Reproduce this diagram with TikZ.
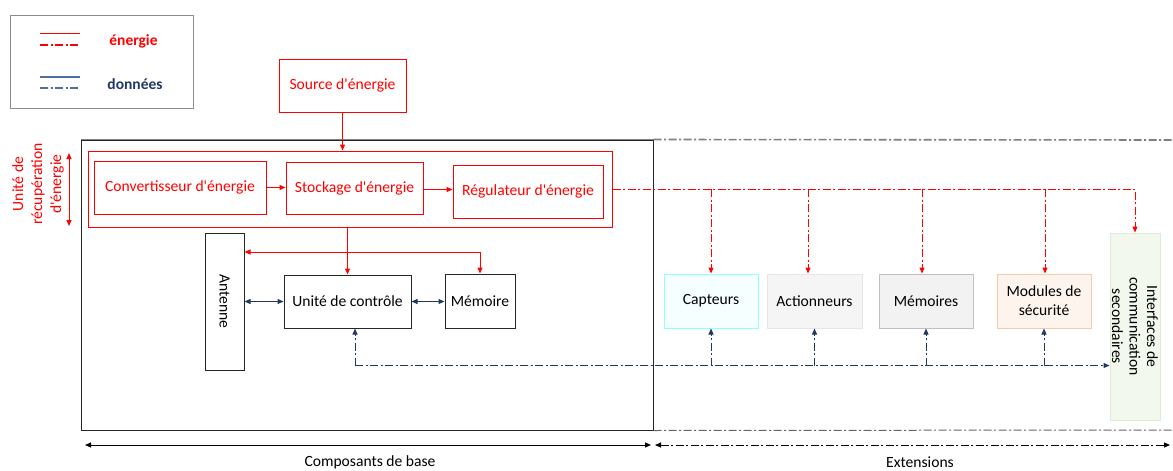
\documentclass[tikz,border=0pt]{standalone}
\usepackage{fontspec}
\setmainfont{Carlito}
\usetikzlibrary{arrows.meta,calc}
\definecolor{navy}{HTML}{1F3864}
\definecolor{legblue}{HTML}{4F6F9F}
\definecolor{framegray}{HTML}{7F7F7F}
\definecolor{capdraw}{HTML}{8FFFFF}
\definecolor{capfill}{HTML}{F5FFFF}
\definecolor{actdraw}{HTML}{E6E6E6}
\definecolor{actfill}{HTML}{F5F5F5}
\definecolor{memdraw}{HTML}{BFBFBF}
\definecolor{memfill}{HTML}{F2F2F2}
\definecolor{secdraw}{HTML}{F8CBAD}
\definecolor{secfill}{HTML}{FDF4EE}
\definecolor{itfdraw}{HTML}{DDEBD3}
\definecolor{itffill}{HTML}{F3F8EE}
\newcommand{\apos}{\textquotesingle}
\tikzset{
  x=1pt, y=-1pt,
  every node/.style={font=\fontsize{15.6}{19}\selectfont, inner sep=0pt, align=center},
  redbox/.style={draw=red, text=red, line width=1pt},
  blackbox/.style={draw=black!85, line width=1pt},
  tip/.style={-{Triangle[length=6pt,width=5pt]}},
  tips/.style={{Triangle[length=6pt,width=5pt]}-{Triangle[length=6pt,width=5pt]}},
  dashdot/.style={dash pattern=on 8pt off 2.5pt on 2pt off 2.5pt},
  enline/.style={draw=red, line width=1pt},
  dataline/.style={draw=navy, line width=1pt},
  legline/.style={line width=1.3pt},
}
\begin{document}
\begin{tikzpicture}
\useasboundingbox (0,0) rectangle (1173,471);

% legend
\node[draw=black!45, line width=1pt, minimum width=183pt, minimum height=93pt] (legend) at (101.5,61.5) {};
\coordinate (l1a) at (40,33.5);  \coordinate (l1b) at (80,33.5);
\coordinate (l2a) at (40,45);    \coordinate (l2b) at (80,45);
\coordinate (l3a) at (40,77);    \coordinate (l3b) at (80,77);
\coordinate (l4a) at (40,88);    \coordinate (l4b) at (80,88);
\draw[legline, draw=red] (l1a) -- (l1b);
\draw[legline, draw=red, dashdot] (l2a) -- (l2b);
\draw[legline, draw=legblue] (l3a) -- (l3b);
\draw[legline, draw=legblue, dashdot] (l4a) -- (l4b);
\node[text=red, font=\fontsize{15.5}{18}\selectfont\bfseries] (legen) at (133.5,41) {énergie};
\node[text=navy, font=\fontsize{15.5}{18}\selectfont\bfseries] (legdat) at (135,84) {données};

% base components frame and extensions frame
\node[blackbox, minimum width=572pt, minimum height=290pt] (base) at (367,285) {};
\draw[framegray, line width=1.6pt] (base.north west) -- (base.north east);
\coordinate (exttop) at (1173,140);
\coordinate (extbot) at (1173,430);
\draw[framegray, line width=1.6pt, dashdot] (base.north east) -- (exttop);
\draw[black!60, line width=1pt, dashdot] (base.south east) -- (extbot);

% energy source
\node[redbox, minimum width=127pt, minimum height=53pt] (src) at (342.5,85.5) {Source d\apos énergie};

% energy harvesting unit
\node[redbox, minimum width=524pt, minimum height=76pt] (recup) at (350,189) {};
\node[redbox, minimum width=172pt, minimum height=53pt] (conv) at (180,187.5) {Convertisseur d\apos énergie};
\node[redbox, minimum width=137pt, minimum height=52pt] (stock) at (354.5,188) {Stockage d\apos énergie};
\node[redbox, minimum width=150pt, minimum height=53pt] (reg) at (528,191.5) {Régulateur d\apos énergie};

\node[text=red, rotate=90, font=\fontsize{15.6}{19}\selectfont] (recuplbl) at (38,184) {Unité de\\récupération\\d\apos énergie};
\coordinate (ra) at (69,153);
\coordinate (rb) at (69,226);
\draw[enline, tips] (ra) -- (rb);

% core blocks
\node[blackbox, minimum width=39pt, minimum height=137pt] (ant) at (224.5,301.5) {};
\node[rotate=-90] (antlbl) at (ant.center) {Antenne};
\node[blackbox, minimum width=127pt, minimum height=53pt] (uc) at (347.5,301.5) {Unité de contrôle};
\node[blackbox, minimum width=70pt, minimum height=54pt] (mem) at (480,301) {Mémoire};

% extensions
\node[draw=capdraw, fill=capfill, line width=1pt, minimum width=94pt, minimum height=54pt] (cap) at (711,301) {Capteurs};
\node[draw=actdraw, fill=actfill, line width=1pt, minimum width=95pt, minimum height=54pt] (act) at (814.5,301) {Actionneurs};
\node[draw=memdraw, fill=memfill, line width=1pt, minimum width=94pt, minimum height=54pt] (mems) at (926,301) {Mémoires};
\node[draw=secdraw, fill=secfill, line width=1pt, minimum width=94pt, minimum height=54pt] (sec) at (1044,301) {Modules de\\sécurité};
\node[draw=itfdraw, fill=itffill, line width=1pt, minimum width=50pt, minimum height=187pt] (itf) at (1135,326.5) {};
\node[rotate=-90, font=\fontsize{15.6}{17.5}\selectfont] (itflbl) at (itf.center) {Interfaces de\\communication\\secondaires};

% energy flow
\draw[enline, tip] (src.south) -- (src.south |- recup.north);
\draw[enline, tip] (conv.east) -- (conv.east -| stock.west);
\draw[enline, tip] (stock.east |- 0,189.5) -- (reg.west |- 0,189.5);
\draw[enline, tip] (uc.north |- recup.south) -- (uc.north);
\coordinate (rbr) at (480,252);
\draw[enline, tips] (ant.east |- rbr) -| (mem.north);

\draw[enline, dashdot, tip] (recup.east) -| (itf.north);
\coordinate (d1) at (711,189);
\coordinate (d2) at (808,189);
\coordinate (d3) at (922,189);
\coordinate (d4) at (1045,189);
\draw[enline, dashdot, tip] (d1) -- (d1 |- cap.north);
\draw[enline, dashdot, tip] (d2) -- (d2 |- act.north);
\draw[enline, dashdot, tip] (d3) -- (d3 |- mems.north);
\draw[enline, dashdot, tip] (d4) -- (d4 |- sec.north);

% data flow
\draw[dataline, tips] (ant.east) -- (uc.west);
\draw[dataline, tips] (uc.east) -- (uc.east -| mem.west);
\coordinate (bbus) at (355,365.5);
\draw[dataline, dashdot, tip] (bbus) -- (bbus |- uc.south);
\draw[dataline, dashdot, tip] (bbus) -- (bbus -| itf.west);
\draw[dataline, dashdot, tip] (cap.south |- bbus) -- (cap.south);
\draw[dataline, dashdot, tip] (act.south |- bbus) -- (act.south);
\draw[dataline, dashdot, tip] (mems.south |- bbus) -- (mems.south);
\draw[dataline, dashdot, tip] (sec.south |- bbus) -- (sec.south);

% extent arrows
\coordinate (ba) at (85,445);
\coordinate (bb) at (651,445);
\coordinate (ea) at (655,445);
\coordinate (eb) at (1170,445);
\draw[line width=1pt, tips] (ba) -- (bb);
\draw[line width=1pt, dashdot, tips] (ea) -- (eb);
\node (baselbl) at (370,462) {Composants de base};
\node (extlbl) at (920,462) {Extensions};
\end{tikzpicture}
\end{document}
